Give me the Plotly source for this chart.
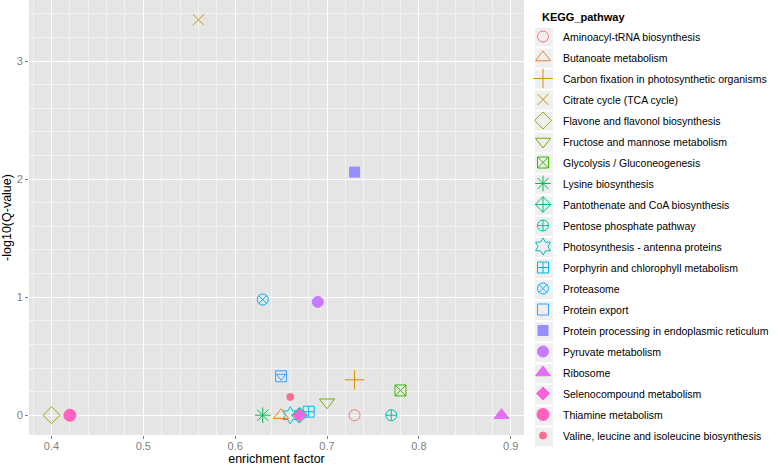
import plotly.graph_objects as go

pathways = [
    "Aminoacyl-tRNA biosynthesis",
    "Butanoate metabolism",
    "Carbon fixation in photosynthetic organisms",
    "Citrate cycle (TCA cycle)",
    "Flavone and flavonol biosynthesis",
    "Fructose and mannose metabolism",
    "Glycolysis / Gluconeogenesis",
    "Lysine biosynthesis",
    "Pantothenate and CoA biosynthesis",
    "Pentose phosphate pathway",
    "Photosynthesis - antenna proteins",
    "Porphyrin and chlorophyll metabolism",
    "Proteasome",
    "Protein export",
    "Protein processing in endoplasmic reticulum",
    "Pyruvate metabolism",
    "Ribosome",
    "Selenocompound metabolism",
    "Thiamine metabolism",
    "Valine, leucine and isoleucine biosynthesis",
]
enrichment = [0.73, 0.65, 0.73, 0.56, 0.40, 0.70, 0.78, 0.63, 0.67, 0.77,
              0.66, 0.68, 0.63, 0.65, 0.73, 0.69, 0.89, 0.67, 0.42, 0.66]
neglogq = [0.00, 0.00, 0.30, 3.35, 0.00, 0.11, 0.21, 0.00, 0.00, 0.00,
           0.00, 0.03, 0.98, 0.33, 2.06, 0.96, 0.00, 0.00, 0.00, 0.155]

colors = ["#F8766D", "#EA8331", "#D89000", "#C09B00", "#A3A500", "#7CAE00",
          "#39B600", "#00BB4E", "#00BF7D", "#00C1A3", "#00BFC4", "#00BAE0",
          "#00B0F6", "#35A2FF", "#9590FF", "#C77CFF", "#E76BF3", "#FA62DB",
          "#FF62BC", "#FF6C91"]
symbols = ["circle-open", "triangle-up-open", "cross-thin-open", "x-thin-open",
           "diamond-open", "triangle-down-open", "square-x-open", "asterisk-open",
           "diamond-cross-open", "circle-cross-open", "hexagram-open",
           "square-cross-open", "circle-x-open", "square-open", "square",
           "circle", "triangle-up", "diamond", "circle", "circle"]
sizes = [11, 13, 14, 11, 13, 13, 11, 13, 12, 11, 13, 11, 11, 11, 10, 11, 13, 10, 12, 7]

W, H = 778, 466
ML, MR, MT, MB = 29, 254, 0, 31
PW, PH = W - ML - MR, H - MT - MB

def px_x(p):
    return (p - ML) / PW

def px_y(p):
    return 1 - (p - MT) / PH

fig = go.Figure()
for i, name in enumerate(pathways):
    fig.add_trace(go.Scatter(
        x=[enrichment[i]], y=[neglogq[i]], mode="markers", name=name,
        legendgroup=name,
        marker=dict(symbol=symbols[i], color=colors[i], size=sizes[i],
                    line=dict(color=colors[i], width=1)),
    ))
    if name == "Protein export":
        fig.add_trace(go.Scatter(
            x=[enrichment[i]], y=[neglogq[i]], mode="markers", name=name,
            legendgroup=name, showlegend=False,
            marker=dict(symbol="triangle-down-open", color=colors[i], size=8,
                        line=dict(color=colors[i], width=1)),
        ))

xmin, xmax = min(enrichment), max(enrichment)
ymin, ymax = min(neglogq), max(neglogq)
xs, ys = xmax - xmin, ymax - ymin
xr = [xmin - 0.05 * xs, xmax + 0.05 * xs]
yr = [ymin - 0.05 * ys, ymax + 0.05 * ys]

axis_common = dict(
    showgrid=True, gridcolor="white", gridwidth=1,
    minor=dict(showgrid=True, gridcolor="#F2F2F2", gridwidth=0.5),
    zeroline=False, ticks="outside", ticklen=3, tickcolor="#7F7F7F",
    tickfont=dict(size=11, color="#7F7F7F"), showline=False, automargin=False,
)
fig.update_xaxes(range=xr, tick0=0.4, dtick=0.1, tickformat=".1f",
                 ticklabelstandoff=-2,
                 title=dict(text="enrichment factor", font=dict(size=12.5, color="black"), standoff=0),
                 **axis_common)
fig.update_yaxes(range=yr, tick0=0, dtick=1,
                 title=dict(text="-log10(Q-value)", font=dict(size=12.5, color="black"), standoff=3),
                 **axis_common)

# grey legend key boxes (ggplot style)
key_cx = 544
key_y0 = 37
key_step = 21.05
shapes = []
for i in range(len(pathways)):
    cy = key_y0 + key_step * i
    shapes.append(dict(type="rect", xref="paper", yref="paper",
                       x0=px_x(key_cx - 9), x1=px_x(key_cx + 9),
                       y0=px_y(cy + 9.5), y1=px_y(cy - 9.5),
                       fillcolor="#EFEFEF", line=dict(width=0), layer="below"))

fig.update_layout(
    width=W, height=H,
    margin=dict(l=ML, r=MR, t=MT, b=MB, autoexpand=False),
    plot_bgcolor="#E5E5E5", paper_bgcolor="white",
    font=dict(family="Liberation Sans, Arial, sans-serif"),
    legend=dict(
        x=px_x(523), xanchor="left", y=px_y(key_y0 - 15), yanchor="top",
        font=dict(size=10.5, color="black"),
        itemsizing="trace", tracegroupgap=2, bgcolor="rgba(0,0,0,0)",
    ),
    shapes=shapes,
    annotations=[dict(text="<b>KEGG_pathway</b>", xref="paper", yref="paper",
                      x=px_x(540), y=px_y(17), xanchor="left", yanchor="middle",
                      showarrow=False, font=dict(size=11, color="black"))],
    showlegend=True,
)
fig.write_html("out.html", config={"displayModeBar": False},
               post_script="document.body.style.margin='0';document.body.style.padding='0';")
